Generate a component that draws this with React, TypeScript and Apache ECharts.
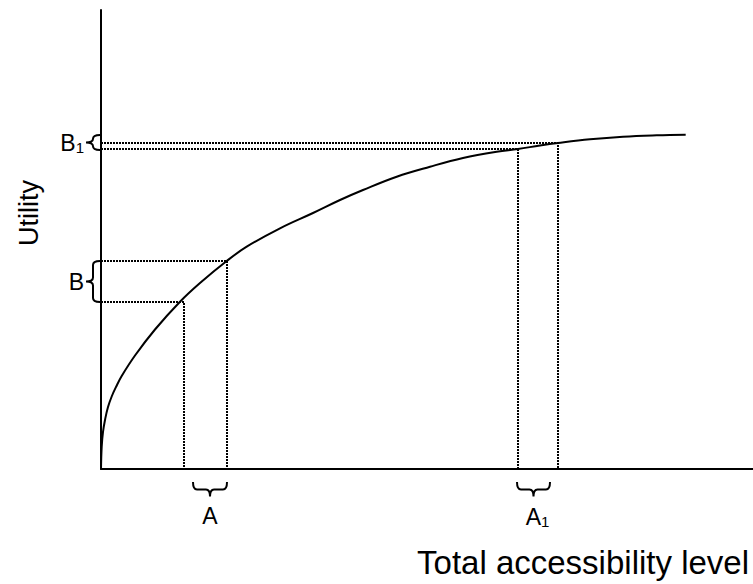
import React, { useEffect, useRef } from "react";
import * as echarts from "echarts";

// Curve: utility vs total accessibility level
const curveX = [0, 0.7, 2, 4, 7, 10.7, 15, 20.7, 34, 54, 79, 99, 125.7, 145.7, 179, 212, 239, 262, 295.7, 329, 362, 395.7, 417, 439, 457, 489, 522, 555.7, 584.7];
const curveY = [0, 22.3, 37, 49, 62, 72.5, 82, 93, 113.5, 139.5, 167.3, 186, 208, 222.3, 240.7, 256, 269, 279, 292.3, 302.3, 311, 317.3, 320, 323.5, 326, 329.7, 332.3, 333.7, 334.3];

// Dotted guide lines: [x, y] points where guides meet the curve
const guideX = [83, 126, 417, 457];
const guideY = [167, 208, 320, 326];

// Braces on the y axis: [from, to] in utility units, with labels
const vBraceFrom = [167, 319];
const vBraceTo = [208, 334];
const vBraceLabel = ["B", "B1"];

// Braces on the x axis
const hBraceFrom = [92, 416];
const hBraceTo = [126, 449];
const hBraceLabel = ["A", "A1"];

const xMax = 652;
const yMax = 459;
const FONT = "Liberation Sans";

function labelRich(lbl: string) {
  if (lbl.length > 1) return `{b|${lbl[0]}}{s|${lbl.slice(1)}}`;
  return `{b|${lbl}}`;
}
const rich = {
  b: { fontSize: 23, fontFamily: FONT, color: "#000" },
  s: { fontSize: 15, fontFamily: FONT, color: "#000", verticalAlign: "bottom", padding: [9, 0, 0, 0] },
};

export default function App() {
  const ref = useRef<HTMLDivElement>(null);
  useEffect(() => {
    if (!ref.current) return;
    const chart = echarts.init(ref.current, null, { renderer: "svg" });

    const dotted = { color: "#000", width: 2, type: [2, 1] as any };
    const guideSeries: any[] = [];
    guideX.forEach((gx, i) => {
      const gy = guideY[i];
      guideSeries.push({
        type: "line",
        data: [[0, gy], [gx, gy], [gx, 0]],
        symbol: "none",
        lineStyle: dotted,
        z: 2,
        silent: true,
      });
    });

    const option: any = {
      animation: false,
      grid: { left: 101, right: 0, top: 10, bottom: 115 },
      xAxis: {
        type: "value", min: 0, max: xMax,
        axisLine: { show: true, onZero: false, lineStyle: { color: "#000", width: 2 } },
        axisTick: { show: false }, axisLabel: { show: false }, splitLine: { show: false },
      },
      yAxis: {
        type: "value", min: 0, max: yMax,
        axisLine: { show: true, onZero: false, lineStyle: { color: "#000", width: 2 } },
        axisTick: { show: false }, axisLabel: { show: false }, splitLine: { show: false },
      },
      series: [
        ...guideSeries,
        {
          type: "line",
          data: curveX.map((x, i) => [x, curveY[i]]),
          smooth: 0.4,
          symbol: "none",
          lineStyle: { color: "#000", width: 2 },
          z: 3,
          silent: true,
        },
        {
          type: "custom",
          silent: true,
          clip: false,
          data: vBraceFrom.map((f, i) => [f, vBraceTo[i], i]),
          renderItem: (params: any, api: any) => {
            const pBot = api.coord([0, api.value(0)]);
            const pTop = api.coord([0, api.value(1)]);
            const idx = api.value(2);
            const xr = pBot[0] - 1;
            const yT = pTop[1], yB = pBot[1];
            const ym = (yT + yB) / 2;
            const r = Math.min(4, (yB - yT) / 4);
            const xb = xr - 7, xt = xr - 14;
            const d = `M${xr},${yT} Q${xb},${yT} ${xb},${yT + r} L${xb},${ym - r} Q${xb},${ym} ${xt},${ym} Q${xb},${ym} ${xb},${ym + r} L${xb},${yB - r} Q${xb},${yB} ${xr},${yB}`;
            return {
              type: "group",
              children: [
                { type: "path", shape: { pathData: d }, style: { stroke: "#000", lineWidth: 2, fill: "none" } },
                {
                  type: "text",
                  style: {
                    text: labelRich(vBraceLabel[idx]), rich,
                    x: xt - 2, y: ym, align: "right", verticalAlign: "middle",
                  },
                },
              ],
            };
          },
        },
        {
          type: "custom",
          silent: true,
          clip: false,
          data: hBraceFrom.map((f, i) => [f, hBraceTo[i], i]),
          renderItem: (params: any, api: any) => {
            const pL = api.coord([api.value(0), 0]);
            const pR = api.coord([api.value(1), 0]);
            const idx = api.value(2);
            const xL = pL[0], xR = pR[0];
            const y0 = pL[1] + 13, yb = pL[1] + 20.5, yt = pL[1] + 27.5;
            const xm = (xL + xR) / 2;
            const r = 4;
            const d = `M${xL},${y0} Q${xL},${yb} ${xL + r},${yb} L${xm - r},${yb} Q${xm},${yb} ${xm},${yt} Q${xm},${yb} ${xm + r},${yb} L${xR - r},${yb} Q${xR},${yb} ${xR},${y0}`;
            return {
              type: "group",
              children: [
                { type: "path", shape: { pathData: d }, style: { stroke: "#000", lineWidth: 2, fill: "none" } },
                {
                  type: "text",
                  style: {
                    text: labelRich(hBraceLabel[idx]), rich,
                    x: xm + (hBraceLabel[idx].length > 1 ? 4 : 0), y: yt + 8, align: "center", verticalAlign: "top",
                  },
                },
              ],
            };
          },
        },
      ],
      graphic: [
        {
          type: "text", x: 29, y: 213, rotation: Math.PI / 2,
          style: { text: "Utility", fontSize: 27, fontFamily: FONT, fill: "#000", align: "center", verticalAlign: "middle" },
        },
        {
          type: "text", x: 749, y: 562,
          style: { text: "Total accessibility level", fontSize: 33, fontFamily: FONT, fill: "#000", align: "right", verticalAlign: "middle" },
        },
      ],
    };
    chart.setOption(option);
    return () => chart.dispose();
  }, []);
  return <div ref={ref} style={{ position: "absolute", left: 0, top: 0, width: 753, height: 584 }} />;
}
